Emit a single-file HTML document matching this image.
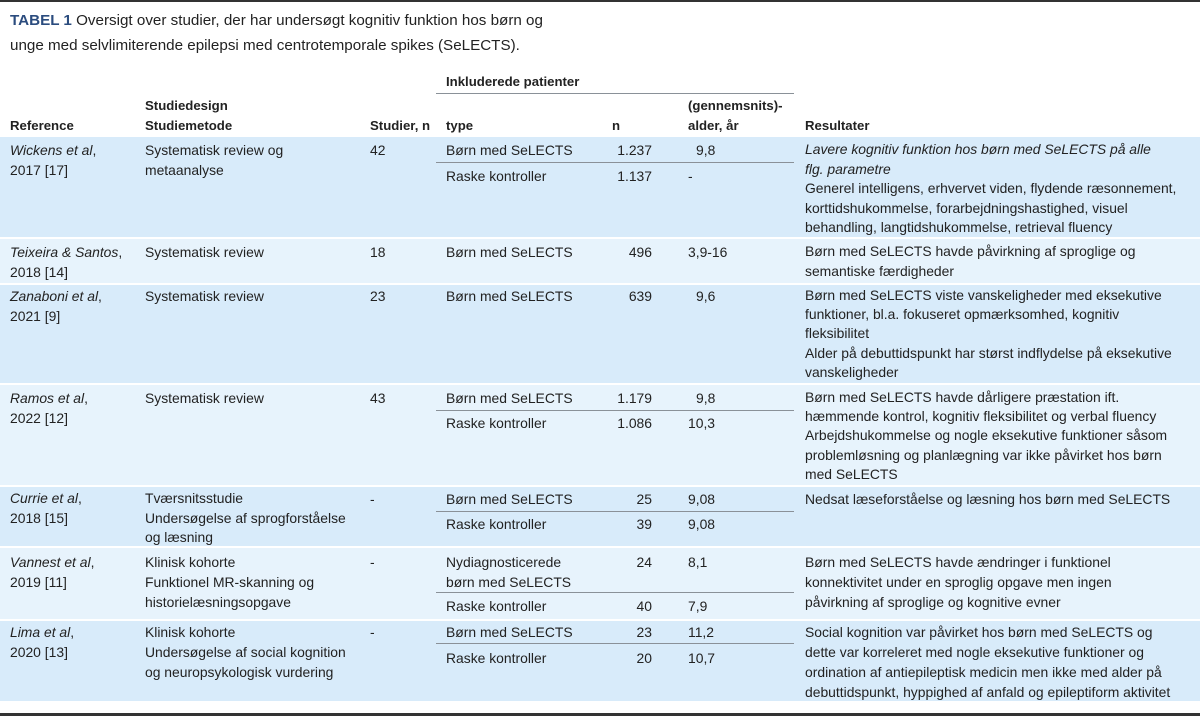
<!DOCTYPE html>
<html><head><meta charset="utf-8"><style>
body{margin:0;width:1200px;height:718px;background:#fff;position:relative;overflow:hidden;font-family:"Liberation Sans",Arial,sans-serif;color:#222}
.a{position:absolute;white-space:nowrap;font-size:13.9px;line-height:20px}
.h{font-weight:bold;font-size:13.2px}
.r{text-align:right;width:60px}
.bg{position:absolute;left:0;width:1200px}
.d{background:#d8ebfa}.l{background:#e7f3fc}
.ln{position:absolute;height:1px;background:#8a9198;left:436px;width:358px}
i{font-style:italic}
</style></head><body>
<div style="position:absolute;left:0;top:0;width:1200px;height:2px;background:#333"></div>
<div style="position:absolute;left:0;top:713px;width:1200px;height:3px;background:#333"></div>
<div class="a" style="left:10px;top:11px;font-size:15.2px"><b style="color:#2b4c7e">TABEL 1</b> Oversigt over studier, der har undersøgt kognitiv funktion hos børn og</div>
<div class="a" style="left:10px;top:36px;font-size:15.2px">unge med selvlimiterende epilepsi med centrotemporale spikes (SeLECTS).</div>

<div class="a h" style="left:446px;top:72px">Inkluderede patienter</div>
<div class="ln" style="top:93px"></div>
<div class="a h" style="left:145px;top:96px">Studiedesign</div>
<div class="a h" style="left:688px;top:96px">(gennemsnits)-</div>
<div class="a h" style="left:10px;top:116px">Reference</div>
<div class="a h" style="left:145px;top:116px">Studiemetode</div>
<div class="a h" style="left:370px;top:116px">Studier, n</div>
<div class="a h" style="left:446px;top:116px">type</div>
<div class="a h" style="left:612px;top:116px">n</div>
<div class="a h" style="left:688px;top:116px">alder, år</div>
<div class="a h" style="left:805px;top:116px">Resultater</div>

<div class="bg d" style="top:137px;height:100px"></div>
<div class="bg l" style="top:239px;height:44px"></div>
<div class="bg d" style="top:285px;height:98px"></div>
<div class="bg l" style="top:385px;height:100px"></div>
<div class="bg d" style="top:487px;height:59px"></div>
<div class="bg l" style="top:548px;height:71px"></div>
<div class="bg d" style="top:621px;height:80px"></div>

<div class="ln" style="top:162px"></div>
<div class="ln" style="top:410px"></div>
<div class="ln" style="top:511px"></div>
<div class="ln" style="top:592px"></div>
<div class="ln" style="top:643px"></div>

<!-- Row1 -->
<div class="a" style="left:10px;top:140px"><i>Wickens et al</i>,<br>2017 [17]</div>
<div class="a" style="left:145px;top:140px">Systematisk review og<br>metaanalyse</div>
<div class="a" style="left:370px;top:140px">42</div>
<div class="a" style="left:446px;top:140px">Børn med SeLECTS</div>
<div class="a r" style="left:592px;top:140px">1.237</div>
<div class="a" style="left:696px;top:140px">9,8</div>
<div class="a" style="left:446px;top:166px">Raske kontroller</div>
<div class="a r" style="left:592px;top:166px">1.137</div>
<div class="a" style="left:688px;top:166px">-</div>
<div class="a" style="left:805px;top:140px;line-height:19.5px"><i>Lavere kognitiv funktion hos børn med SeLECTS på alle<br>flg. parametre</i><br>Generel intelligens, erhvervet viden, flydende ræsonnement,<br>korttidshukommelse, forarbejdningshastighed, visuel<br>behandling, langtidshukommelse, retrieval fluency</div>
<!-- Row2 -->
<div class="a" style="left:10px;top:242px"><i>Teixeira &amp; Santos</i>,<br>2018 [14]</div>
<div class="a" style="left:145px;top:242px">Systematisk review</div>
<div class="a" style="left:370px;top:242px">18</div>
<div class="a" style="left:446px;top:242px">Børn med SeLECTS</div>
<div class="a r" style="left:592px;top:242px">496</div>
<div class="a" style="left:688px;top:242px">3,9-16</div>
<div class="a" style="left:805px;top:242px;line-height:19.5px">Børn med SeLECTS havde påvirkning af sproglige og<br>semantiske færdigheder</div>
<!-- Row3 -->
<div class="a" style="left:10px;top:286px"><i>Zanaboni et al</i>,<br>2021 [9]</div>
<div class="a" style="left:145px;top:286px">Systematisk review</div>
<div class="a" style="left:370px;top:286px">23</div>
<div class="a" style="left:446px;top:286px">Børn med SeLECTS</div>
<div class="a r" style="left:592px;top:286px">639</div>
<div class="a" style="left:696px;top:286px">9,6</div>
<div class="a" style="left:805px;top:286px;line-height:19.2px">Børn med SeLECTS viste vanskeligheder med eksekutive<br>funktioner, bl.a. fokuseret opmærksomhed, kognitiv<br>fleksibilitet<br>Alder på debuttidspunkt har størst indflydelse på eksekutive<br>vanskeligheder</div>
<!-- Row4 -->
<div class="a" style="left:10px;top:388px"><i>Ramos et al</i>,<br>2022 [12]</div>
<div class="a" style="left:145px;top:388px">Systematisk review</div>
<div class="a" style="left:370px;top:388px">43</div>
<div class="a" style="left:446px;top:388px">Børn med SeLECTS</div>
<div class="a r" style="left:592px;top:388px">1.179</div>
<div class="a" style="left:696px;top:388px">9,8</div>
<div class="a" style="left:446px;top:413px">Raske kontroller</div>
<div class="a r" style="left:592px;top:413px">1.086</div>
<div class="a" style="left:688px;top:413px">10,3</div>
<div class="a" style="left:805px;top:388px;line-height:19.2px">Børn med SeLECTS havde dårligere præstation ift.<br>hæmmende kontrol, kognitiv fleksibilitet og verbal fluency<br>Arbejdshukommelse og nogle eksekutive funktioner såsom<br>problemløsning og planlægning var ikke påvirket hos børn<br>med SeLECTS</div>
<!-- Row5 -->
<div class="a" style="left:10px;top:489px;line-height:19.5px"><i>Currie et al</i>,<br>2018 [15]</div>
<div class="a" style="left:145px;top:489px;line-height:19.5px">Tværsnitsstudie<br>Undersøgelse af sprogforståelse<br>og læsning</div>
<div class="a" style="left:370px;top:489px">-</div>
<div class="a" style="left:446px;top:489px">Børn med SeLECTS</div>
<div class="a r" style="left:592px;top:489px">25</div>
<div class="a" style="left:688px;top:489px">9,08</div>
<div class="a" style="left:446px;top:514px">Raske kontroller</div>
<div class="a r" style="left:592px;top:514px">39</div>
<div class="a" style="left:688px;top:514px">9,08</div>
<div class="a" style="left:805px;top:489px">Nedsat læseforståelse og læsning hos børn med SeLECTS</div>
<!-- Row6 -->
<div class="a" style="left:10px;top:552px;line-height:20px"><i>Vannest et al</i>,<br>2019 [11]</div>
<div class="a" style="left:145px;top:552px;line-height:20px">Klinisk kohorte<br>Funktionel MR-skanning og<br>historielæsningsopgave</div>
<div class="a" style="left:370px;top:552px">-</div>
<div class="a" style="left:446px;top:552px;line-height:20px">Nydiagnosticerede<br>børn med SeLECTS</div>
<div class="a r" style="left:592px;top:552px">24</div>
<div class="a" style="left:688px;top:552px">8,1</div>
<div class="a" style="left:446px;top:596px">Raske kontroller</div>
<div class="a r" style="left:592px;top:596px">40</div>
<div class="a" style="left:688px;top:596px">7,9</div>
<div class="a" style="left:805px;top:552px;line-height:20px">Børn med SeLECTS havde ændringer i funktionel<br>konnektivitet under en sproglig opgave men ingen<br>påvirkning af sproglige og kognitive evner</div>
<!-- Row7 -->
<div class="a" style="left:10px;top:622px;line-height:20px"><i>Lima et al</i>,<br>2020 [13]</div>
<div class="a" style="left:145px;top:622px;line-height:20px">Klinisk kohorte<br>Undersøgelse af social kognition<br>og neuropsykologisk vurdering</div>
<div class="a" style="left:370px;top:622px">-</div>
<div class="a" style="left:446px;top:622px">Børn med SeLECTS</div>
<div class="a r" style="left:592px;top:622px">23</div>
<div class="a" style="left:688px;top:622px">11,2</div>
<div class="a" style="left:446px;top:648px">Raske kontroller</div>
<div class="a r" style="left:592px;top:648px">20</div>
<div class="a" style="left:688px;top:648px">10,7</div>
<div class="a" style="left:805px;top:622px;line-height:20px">Social kognition var påvirket hos børn med SeLECTS og<br>dette var korreleret med nogle eksekutive funktioner og<br>ordination af antiepileptisk medicin men ikke med alder på<br>debuttidspunkt, hyppighed af anfald og epileptiform aktivitet</div>
</body></html>
